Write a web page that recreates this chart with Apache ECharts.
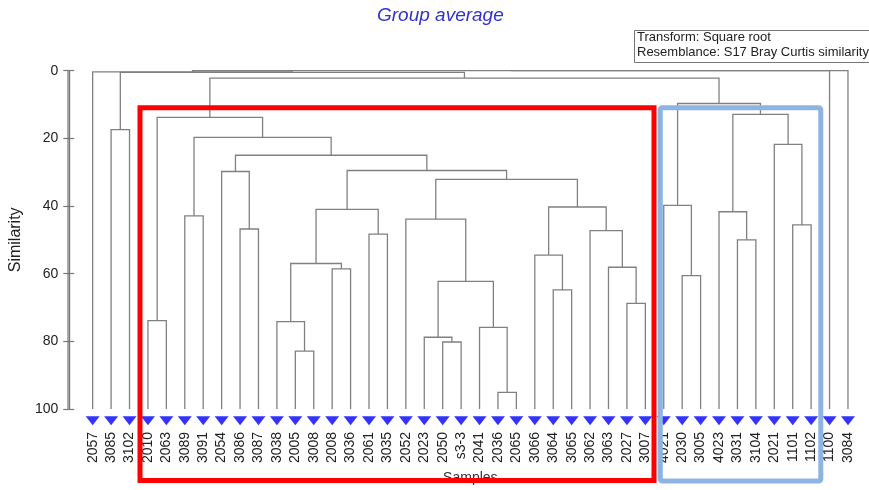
<!DOCTYPE html>
<html><head><meta charset="utf-8">
<script src="https://cdn.jsdelivr.net/npm/echarts@6/dist/echarts.min.js"></script>
<style>html,body{margin:0;padding:0;background:#fff}#c{width:869px;height:490px}</style>
</head><body><div id="c"></div>
<script>
// Leaves (samples) in dendrogram order
const leaves = ['2057','3085','3102','2010','2063','3089','3091','2054','3086','3087','3038','2005','3008','2008','3036','2061','3035','2052','2023','2050','s3-3','2041','2036','2065','3066','3064','3065','3062','3063','2027','3007','4021','2030','3005','4023','3031','3104','2021','1101','1102','1100','3084'];
// Merges: child ids (0..41 = leaves, 42+ = previous merges), and similarity level
const mergeLeft  = [22,11,19,18,21,10,3,29,25,45,32,13,28,47,24,35,15,27,8,38,17,5,34,55,56,31,62,7,65,69,37,63,1,48,64,67,75,74,0,80,81];
const mergeRight = [23,12,20,44,42,43,4,30,26,46,33,14,49,53,50,36,16,54,9,39,51,6,57,58,59,52,66,60,68,70,61,71,2,73,72,76,77,78,79,40,41];
const mergeSim   = [95.1,82.9,80.2,78.8,75.9,74.2,73.9,68.8,64.8,62.3,60.6,58.6,58.1,57.0,54.5,50.0,48.3,47.3,46.8,45.6,43.9,42.9,41.7,41.0,40.3,39.8,32.1,29.8,29.5,25.0,21.8,19.7,17.4,13.8,12.9,9.7,2.2,0.5,0.35,0,0];
const yTicks = [0,20,40,60,80,100];
const leafLevel = 100;
const markerLevel = 103.5;

const n = leaves.length;
const nodeX = [], nodeY = [];
leaves.forEach((l,i)=>{nodeX[i]=i; nodeY[i]=leafLevel;});
const links = [];
for (let k=0;k<mergeSim.length;k++){
  const a=mergeLeft[k], b=mergeRight[k], h=mergeSim[k];
  nodeX[n+k]=(nodeX[a]+nodeX[b])/2; nodeY[n+k]=h;
  links.push({coords:[[nodeX[a],nodeY[a]],[nodeX[a],h],[nodeX[b],h],[nodeX[b],nodeY[b]]]});
}
const markers = leaves.map((l,i)=>[i,markerLevel]);

const font = 'Liberation Sans, Arial, sans-serif';
const axisCol = '#777';
const chart = echarts.init(document.getElementById('c'));
chart.setOption({
  animation:false,
  title:{text:'Group average',left:377,top:6,padding:0,
    textStyle:{color:'#3333cc',fontSize:19,fontStyle:'italic',fontWeight:'normal',fontFamily:font}},
  grid:{left:73,right:2.6,top:70.7,bottom:75.3},
  xAxis:{type:'value',min:-1,max:42,interval:1,
    axisLine:{show:false,onZero:false},axisTick:{show:false},splitLine:{show:false},
    axisLabel:{rotate:90,margin:23,fontSize:14,color:'#222',fontFamily:font,
      formatter:v=>(v>=0&&v<n&&Number.isInteger(v))?leaves[v]:''},
    name:'Samples',nameLocation:'middle',nameGap:61,
    nameTextStyle:{fontSize:14,color:'#333',fontFamily:font}},
  yAxis:[
    {type:'value',inverse:true,min:0,max:100,interval:20,offset:5,position:'left',
     axisLine:{show:true,onZero:false,lineStyle:{color:axisCol,width:1.2}},
     axisTick:{show:true,length:6,lineStyle:{color:axisCol,width:1.2}},
     splitLine:{show:false},
     axisLabel:{margin:11,fontSize:14,color:'#222',fontFamily:font,
       formatter:v=>yTicks.includes(v)?String(v):''},
     name:'Similarity',nameLocation:'middle',nameGap:44,nameRotate:90,
     nameTextStyle:{fontSize:16,color:'#222',fontFamily:font}},
    {type:'value',inverse:true,min:0,max:100,interval:20,offset:5,position:'left',
     axisLine:{show:true,onZero:false,lineStyle:{color:axisCol,width:1.2}},
     axisTick:{show:true,inside:true,length:5,lineStyle:{color:axisCol,width:1.2}},
     splitLine:{show:false},axisLabel:{show:false}}
  ],
  series:[
    {type:'lines',coordinateSystem:'cartesian2d',polyline:true,
     lineStyle:{color:'#808080',width:1.3,opacity:1},data:links,silent:true},
    {type:'scatter',data:markers,symbol:'triangle',symbolRotate:180,symbolSize:[14,9],
     clip:false,itemStyle:{color:'#0000ff'},silent:true}
  ],
  graphic:[
    {id:'redBox',type:'rect',z:100,shape:{x:140,y:107.7,width:514,height:372.8},
     style:{fill:'none',stroke:'#ff0000',lineWidth:5}},
    {id:'blueBox',type:'rect',z:100,shape:{x:660.3,y:107.7,width:160.5,height:373.3,r:2},
     style:{fill:'none',stroke:'#8db4e2',lineWidth:5}},
    {id:'infoBox',type:'rect',z:100,shape:{x:634.5,y:30.5,width:250,height:32},
     style:{fill:'#fff',stroke:'#777',lineWidth:1}},
    {id:'infoText',type:'text',z:101,x:637,y:30.5,
     style:{text:'Transform: Square root\nResemblance: S17 Bray Curtis similarity',
       font:'13px '+font,fill:'#222',lineHeight:14.4,textVerticalAlign:'top'}}
  ]
});
// Axis spine (drawn from the y axis scale)
const pTop = chart.convertToPixel({yAxisIndex:0}, 0);
const pBot = chart.convertToPixel({yAxisIndex:0}, 100);
chart.setOption({graphic:[{id:'spine',type:'line',z:50,shape:{x1:68,y1:pTop,x2:68,y2:pBot},
  style:{stroke:axisCol,lineWidth:1.2}}]});
</script></body></html>
